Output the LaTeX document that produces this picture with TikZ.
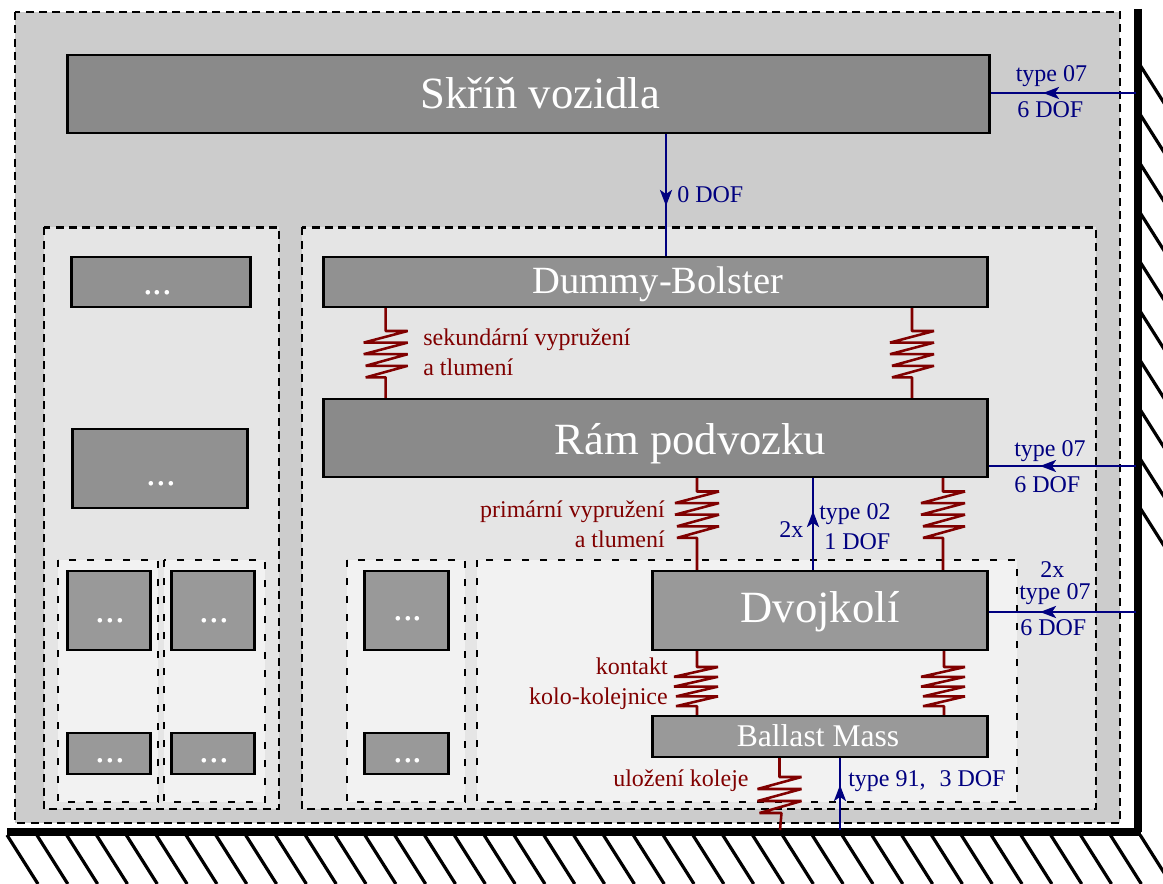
\documentclass[tikz,border=0pt]{standalone}
\usepackage{fontspec}
\setmainfont{Liberation Serif}
\usetikzlibrary{arrows.meta,calc}
\definecolor{navyc}{HTML}{000080}
\definecolor{redc}{HTML}{800000}
\tikzset{
  panel/.style={draw=black,line width=1.6pt,dash pattern=on 6pt off 4pt},
  inpanel/.style={draw=black,line width=1.6pt,dash pattern=on 5pt off 8.5pt},
  conn/.style={draw=navyc,line width=1.9pt},
  tipd/.style={-{Stealth[length=12pt,width=9pt,inset=3pt]}},
  spr/.style={draw=redc,line width=1.9pt,line join=bevel},
  lab/.style={inner sep=0pt,font=\fontsize{18pt}{20pt}\selectfont},
  navylab/.style={lab,text=navyc,anchor=base west},
  redlab/.style={lab,text=redc,anchor=base west},
  redlabr/.style={lab,text=redc,anchor=base east},
  hatch/.style={line width=2.4pt,draw=black},
  wall/.style={line width=5.4pt,draw=black,line cap=butt}
}
% name, x1,y1,x2,y2, font size(pt), fill, baseline offset(px), text
\newcommand{\bx}[9]{%
  \node[draw=black,line width=1.8pt,fill=#7,inner sep=0pt,text=white,
        minimum width=#4*0.75pt-#2*0.75pt-0.75pt,minimum height=#5*0.75pt-#3*0.75pt,
        text height=2*#8*0.75pt,text depth=0pt,
        font=\fontsize{#6pt}{#6pt}\selectfont]
        (#1) at ({(#2+#4)/2},{(#3+#5)/2}) {#9};}
\newcommand{\spring}[6]{%
  \coordinate (tmpx) at (#3,0);
  \draw[spr] (#1.south -| tmpx) -- (#3,#4) -- ++(#5,0) -- ++(-44,#6) -- ++(44,0) -- ++(-44,#6) -- ++(44,0) -- ++(-42,#6) -- ++(42,0) -- ++(-42,#6) -- (#3,#4+4*#6) -- (#2.north -| tmpx);}
\newcommand{\dotsr}{\hspace*{2pt}...}
\begin{document}
\begin{tikzpicture}[x=0.75pt,y=-0.75pt]
\useasboundingbox (0,0) rectangle (1163,884);
% panels
\path[panel,fill=black!20] (15,12) rectangle (1120,823);
\path[panel,fill=black!10] (44,227.5) rectangle (279,809);
\path[panel,fill=black!10] (302,227.5) rectangle (1096,809);
\path[inpanel,fill=black!5] (58,560) rectangle (158,802);
\path[inpanel,fill=black!5] (164,560) rectangle (265,802);
\path[inpanel,fill=black!5] (347,560) rectangle (465,802);
\path[inpanel,fill=black!5] (477,560) rectangle (1017,802);
% hatching
\begin{scope}
\clip (0,0) rectangle (1163,884);
\foreach \k in {0,...,38} \draw[hatch] ({7+29.82*\k},835) -- ++(31,49);
\foreach \k in {0,...,9} \draw[hatch] (1140,{65+49.2*\k}) -- ++(31,49);
\end{scope}
% walls
\draw[wall] (1138,9) -- (1138,832);
\draw[wall] (7,832) -- (1141,832);
\coordinate (wa) at (1136,93);
\coordinate (wb) at (1136,466);
\coordinate (wc) at (1136,612);
\coordinate (wd) at (780,830);
\coordinate (we) at (840,830);
% boxes
\bx{skrin}{67}{55}{990}{133}{33.5}{black!46}{15}{\hspace*{18pt}Skříň vozidla}
\bx{dummy}{323}{257}{988}{307}{28.9}{black!43}{11}{\hspace*{3.75pt}Dummy-Bolster}
\bx{ram}{323}{399}{988}{477}{33.5}{black!46}{16}{\hspace*{52.5pt}Rám podvozku}
\bx{dvoj}{652}{571}{988}{650}{33.5}{black!40}{11.5}{Dvojkolí}
\bx{ball}{652}{716}{988}{757}{23.7}{black!40}{10}{Ballast Mass\hspace*{3pt}}
\bx{la}{71}{257}{251}{307}{29}{black!43}{13}{...\hspace*{5.25pt}}
\bx{lb}{72}{429}{248}{508}{29}{black!43}{16.5}{\dotsr}
\bx{lc}{67}{571}{151}{650}{29}{black!40}{11.5}{\dotsr}
\bx{ld}{171}{571}{255}{650}{29}{black!40}{11.5}{\dotsr}
\bx{le}{67}{733}{151}{774}{29}{black!40}{9}{\dotsr}
\bx{lf}{171}{733}{255}{774}{29}{black!40}{9}{\dotsr}
\bx{lg}{364}{571}{449}{650}{29}{black!40}{9.5}{\dotsr}
\bx{lh}{364}{733}{449}{774}{29}{black!40}{9}{\dotsr}
% springs
\spring{dummy}{ram}{385.7}{331}{22}{11.6}
\spring{dummy}{ram}{912}{331}{22}{11.6}
\spring{ram}{dvoj}{697}{491.5}{22}{11.6}
\spring{ram}{dvoj}{943}{491.5}{22}{11.6}
\spring{dvoj}{ball}{697}{667}{21}{9.8}
\spring{dvoj}{ball}{944}{667}{21}{9.8}
\coordinate (tmpx) at (779.5,0);
\draw[spr] (ball.south -| tmpx) -- (779.5,777) -- ++(22,0) -- ++(-44,12) -- ++(44,0) -- ++(-44,12) -- ++(44,0) -- ++(-42,12) -- ++(22,0) -- (wd);
% connectors
\coordinate (xa) at (666,0);
\coordinate (xb) at (813,0);
\draw[conn] (wa) -- (skrin.east |- wa);
\draw[conn,tipd] (wa) -- (1043,93);
\draw[conn] (skrin.south -| xa) -- (dummy.north -| xa);
\draw[conn,tipd] (skrin.south -| xa) -- (666,206);
\draw[conn] (wb) -- (ram.east |- wb);
\draw[conn,tipd] (wb) -- (1040,466);
\draw[conn] (wc) -- (dvoj.east |- wc);
\draw[conn,tipd] (wc) -- (1040,612);
\draw[conn] (dvoj.north -| xb) -- (ram.south -| xb);
\draw[conn,tipd] (dvoj.north -| xb) -- (813,511);
\draw[conn] (we) -- (ball.south -| we);
\draw[conn,tipd] (we) -- (840,785);
% labels
\node[navylab] (t1) at (1015.5,82) {type 07};
\node[navylab] (t2) at (1017,118) {6 DOF};
\node[navylab] (t3) at (677,203) {0 DOF};
\node[navylab] (t4) at (1014,456) {type 07};
\node[navylab] (t5) at (1014,492) {6 DOF};
\node[navylab] (t6) at (779,537) {2x};
\node[navylab] (t7) at (819,519) {type 02};
\node[navylab] (t8) at (824,549) {1 DOF};
\node[navylab] (t9) at (1040,577) {2x};
\node[navylab] (t10) at (1019,599) {type 07};
\node[navylab] (t11) at (1020,635) {6 DOF};
\node[navylab] (t12) at (848,786) {type 91,\hspace{0.58em}3 DOF};
\node[redlab] (r1) at (423,345) {sekundární vypružení};
\node[redlab] (r2) at (423,375) {a tlumení};
\node[redlabr] (r3) at (665,517) {primární vypružení};
\node[redlabr] (r4) at (665,547) {a tlumení};
\node[redlabr] (r5) at (668,674) {kontakt};
\node[redlabr] (r6) at (668,704) {kolo-kolejnice};
\node[redlab] (r7) at (613,786) {uložení koleje};
\end{tikzpicture}
\end{document}
